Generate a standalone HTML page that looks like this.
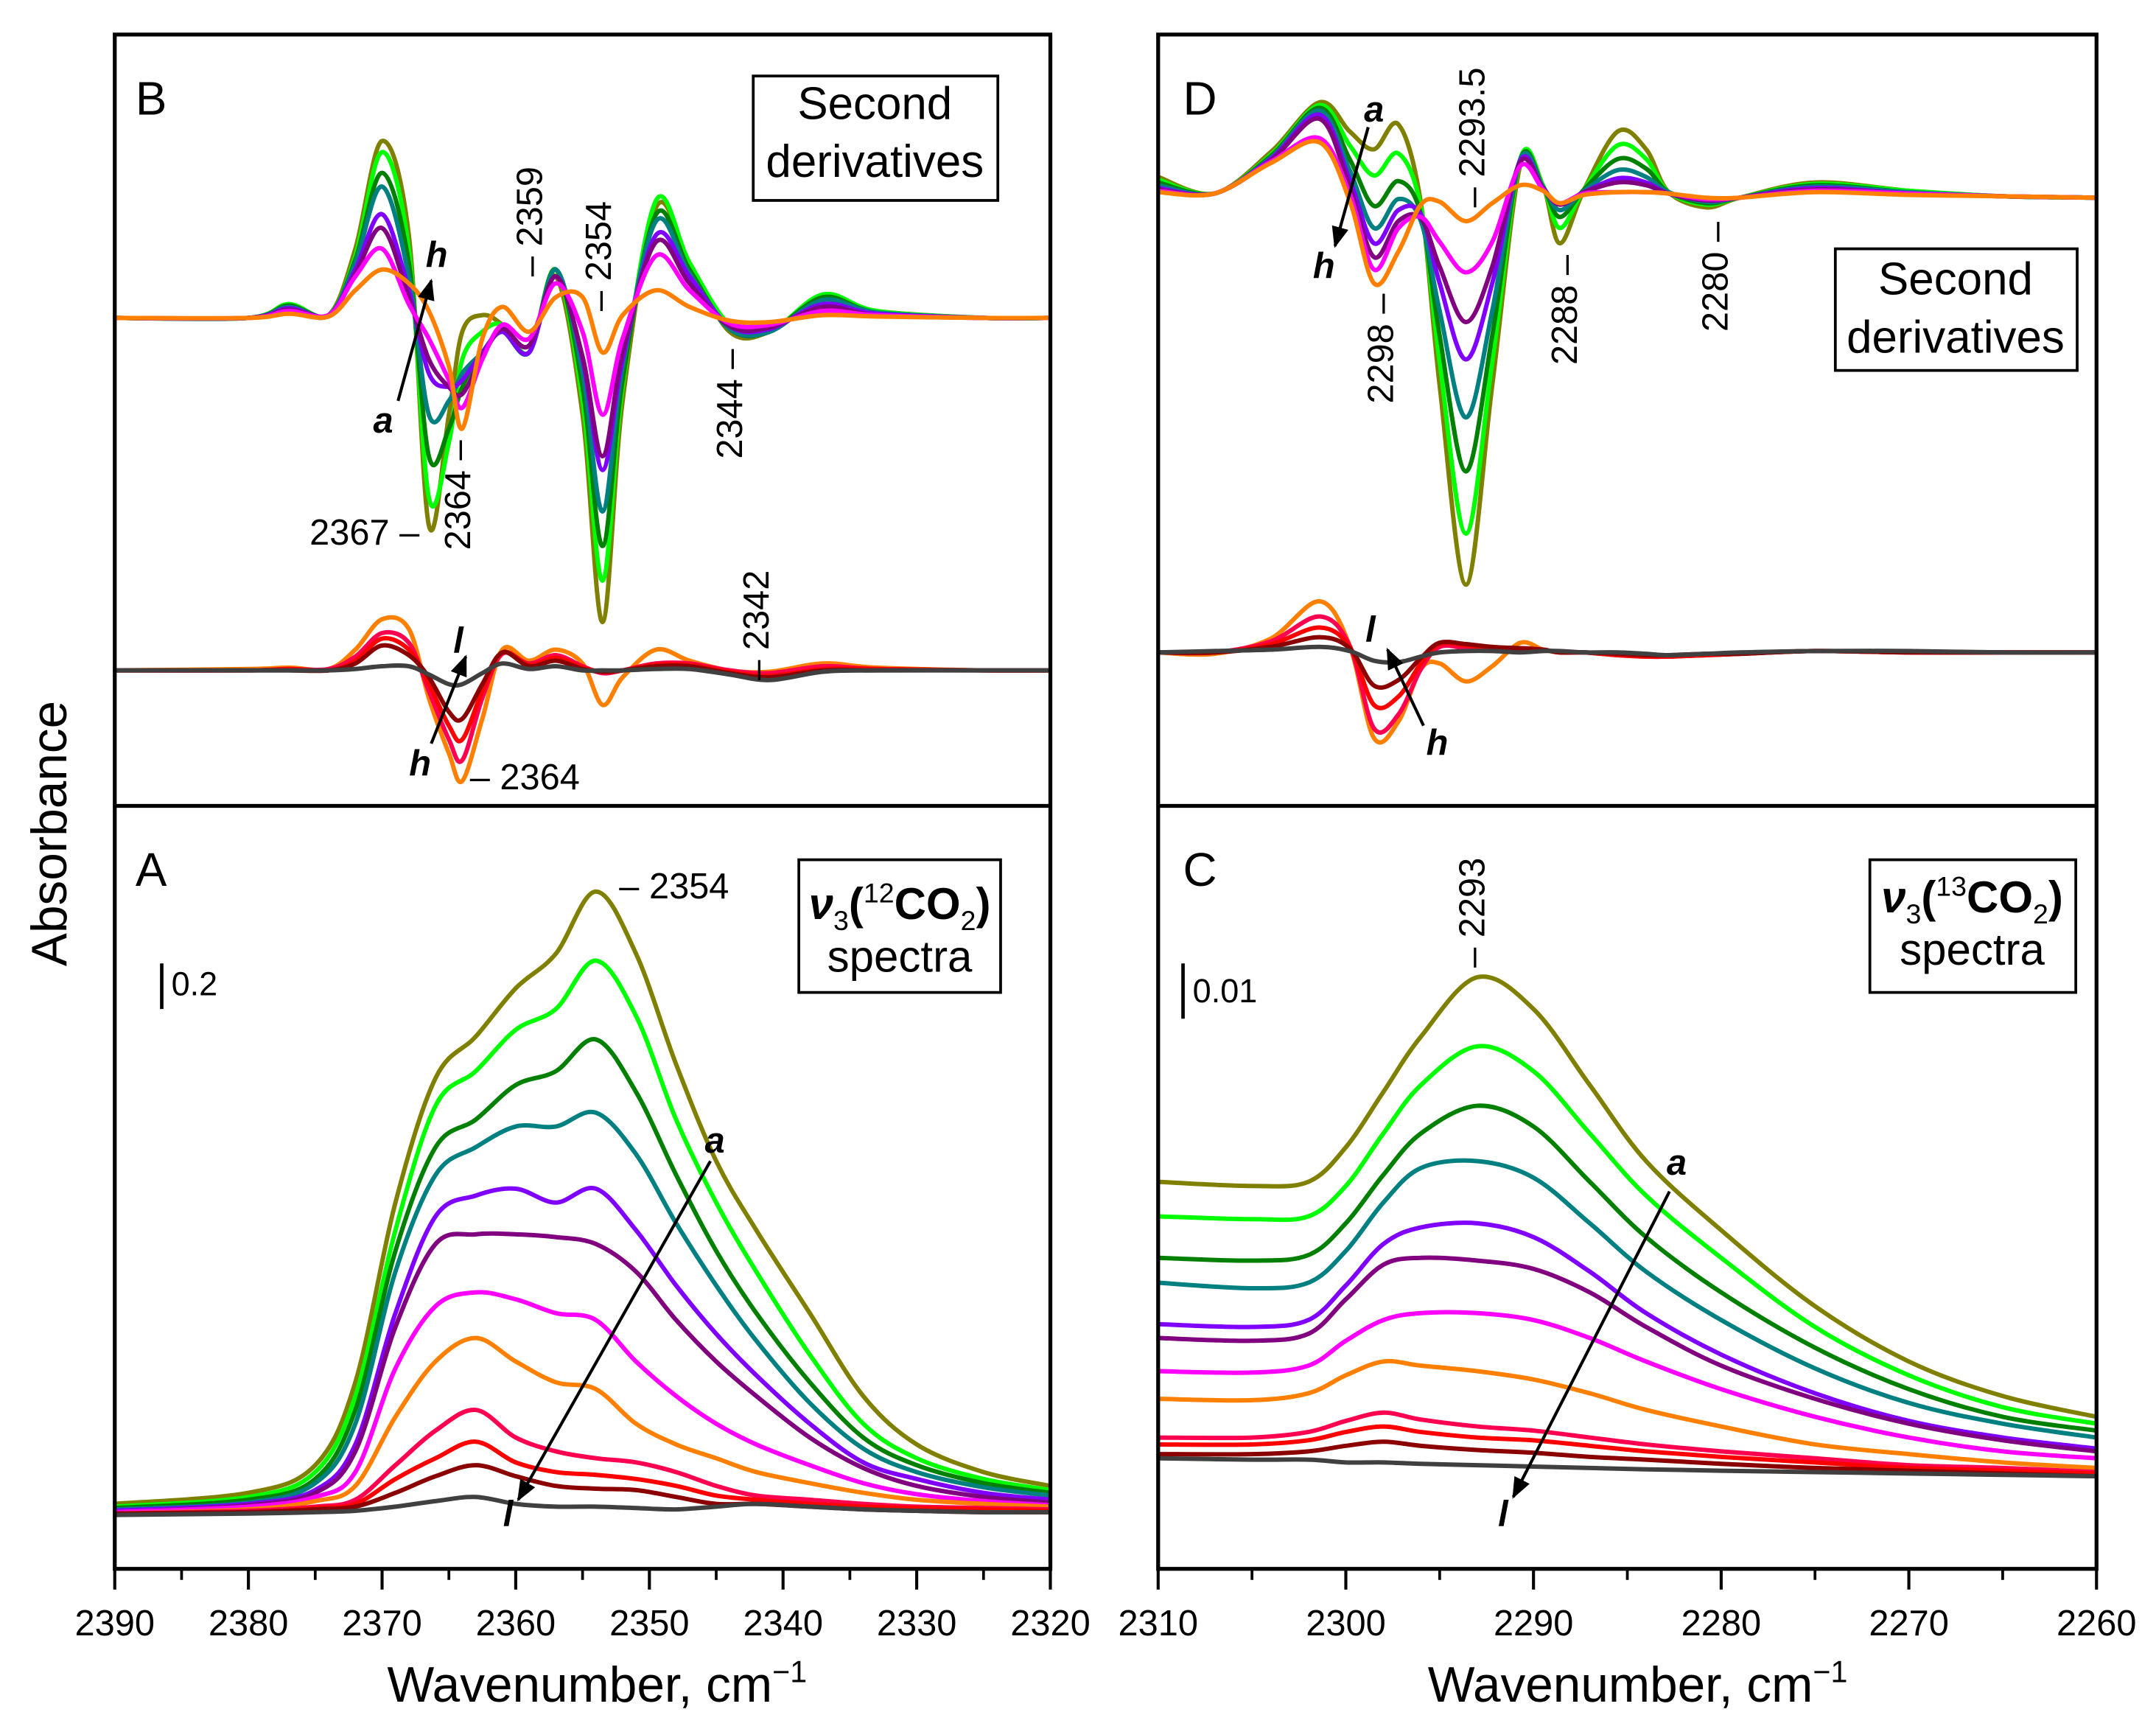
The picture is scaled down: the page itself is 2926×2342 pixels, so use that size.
<!DOCTYPE html>
<html><head><meta charset="utf-8">
<style>
html,body{margin:0;padding:0;background:#fff;}
svg{display:block;font-family:"Liberation Sans",Arial,sans-serif;}
</style></head>
<body>
<svg id="fig" width="2926" height="2342" viewBox="0 0 1560 1248.7" xmlns="http://www.w3.org/2000/svg">
<defs>
<clipPath id="clipL"><rect x="83" y="25" width="677" height="1110"/></clipPath>
<clipPath id="clipR"><rect x="838" y="25" width="679" height="1110"/></clipPath>
<marker id="arr" viewBox="0 0 10 10" refX="9" refY="5" markerWidth="7" markerHeight="7" orient="auto"><path d="M0,1 L10,5 L0,9 z" fill="#000"/></marker>
</defs>
<g id="curvesL" clip-path="url(#clipL)"></g>
<g id="curvesR" clip-path="url(#clipR)"></g>
<g id="axes"></g>
<g id="annot" font-size="26">
  <text x="98" y="83" font-size="34">B</text>
  <rect x="545" y="55" width="177" height="90" fill="#fff" stroke="#000" stroke-width="2"/>
  <text x="633" y="86" font-size="33" text-anchor="middle">Second</text>
  <text x="633" y="128" font-size="33" text-anchor="middle">derivatives</text>
  <text transform="translate(392,200) rotate(-90)">– 2359</text>
  <text transform="translate(442,225) rotate(-90)">– 2354</text>
  <text transform="translate(340,398) rotate(-90)">2364 –</text>
  <text transform="translate(537,332) rotate(-90)">2344 –</text>
  <text transform="translate(556,492) rotate(-90)">– 2342</text>
  <text x="224" y="394">2367 –</text>
  <text x="340" y="571">– 2364</text>
  <text x="270" y="313" font-weight="bold" font-style="italic">a</text>
  <text x="308" y="193" font-weight="bold" font-style="italic">h</text>
  <line x1="288" y1="290" x2="312" y2="203" stroke="#000" stroke-width="2.2" marker-end="url(#arr)"/>
  <text x="328" y="472" font-weight="bold" font-style="italic">l</text>
  <text x="296" y="561" font-weight="bold" font-style="italic">h</text>
  <line x1="312" y1="538" x2="337" y2="475" stroke="#000" stroke-width="2.2" marker-end="url(#arr)"/>

  <text x="98" y="641" font-size="34">A</text>
  <text x="448" y="650">– 2354</text>
  <rect x="578" y="622" width="146" height="96" fill="#fff" stroke="#000" stroke-width="2"/>
  <text x="651" y="665" font-size="32" text-anchor="middle"><tspan font-weight="bold" font-style="italic">ν</tspan><tspan font-size="20" dy="8">3</tspan><tspan font-weight="bold" dy="-8">(</tspan><tspan font-size="20" dy="-12">12</tspan><tspan font-weight="bold" dy="12">CO</tspan><tspan font-size="20" dy="8">2</tspan><tspan font-weight="bold" dy="-8">)</tspan></text>
  <text x="651" y="703" font-size="32" text-anchor="middle">spectra</text>
  <line x1="117" y1="697" x2="117" y2="730" stroke="#000" stroke-width="2.5"/>
  <text x="124" y="720" font-size="24">0.2</text>
  <text x="510" y="834" font-weight="bold" font-style="italic">a</text>
  <text x="364" y="1104" font-weight="bold" font-style="italic">l</text>
  <line x1="514" y1="840" x2="375" y2="1085" stroke="#000" stroke-width="2.2" marker-end="url(#arr)"/>

  <text x="856" y="83" font-size="34">D</text>
  <text x="987" y="88" font-weight="bold" font-style="italic">a</text>
  <text x="950" y="201" font-weight="bold" font-style="italic">h</text>
  <line x1="990" y1="92" x2="966" y2="178" stroke="#000" stroke-width="2.2" marker-end="url(#arr)"/>
  <text transform="translate(1074,150) rotate(-90)">– 2293.5</text>
  <text transform="translate(1008,292) rotate(-90)">2298 –</text>
  <text transform="translate(1141,264) rotate(-90)">2288 –</text>
  <text transform="translate(1250,240) rotate(-90)">2280 –</text>
  <rect x="1328" y="180" width="175" height="88" fill="#fff" stroke="#000" stroke-width="2"/>
  <text x="1415" y="213" font-size="33" text-anchor="middle">Second</text>
  <text x="1415" y="255" font-size="33" text-anchor="middle">derivatives</text>
  <text x="988" y="464" font-weight="bold" font-style="italic">l</text>
  <text x="1032" y="546" font-weight="bold" font-style="italic">h</text>
  <line x1="1030" y1="525" x2="1004" y2="470" stroke="#000" stroke-width="2.2" marker-end="url(#arr)"/>

  <text x="856" y="641" font-size="34">C</text>
  <text transform="translate(1074,700) rotate(-90)">– 2293</text>
  <rect x="1353" y="622" width="149" height="96" fill="#fff" stroke="#000" stroke-width="2"/>
  <text x="1427" y="660" font-size="32" text-anchor="middle"><tspan font-weight="bold" font-style="italic">ν</tspan><tspan font-size="20" dy="8">3</tspan><tspan font-weight="bold" dy="-8">(</tspan><tspan font-size="20" dy="-12">13</tspan><tspan font-weight="bold" dy="12">CO</tspan><tspan font-size="20" dy="8">2</tspan><tspan font-weight="bold" dy="-8">)</tspan></text>
  <text x="1427" y="698" font-size="32" text-anchor="middle">spectra</text>
  <line x1="856" y1="697" x2="856" y2="737" stroke="#000" stroke-width="2.5"/>
  <text x="863" y="725" font-size="24">0.01</text>
  <text x="1206" y="850" font-weight="bold" font-style="italic">a</text>
  <text x="1084" y="1104" font-weight="bold" font-style="italic">l</text>
  <line x1="1208" y1="862" x2="1095" y2="1083" stroke="#000" stroke-width="2.2" marker-end="url(#arr)"/>

  <text transform="translate(48,603) rotate(-90)" font-size="36" text-anchor="middle">Absorbance</text>
  <text x="432" y="1231" font-size="36" text-anchor="middle">Wavenumber, cm<tspan font-size="22" dy="-14">−1</tspan></text>
  <text x="1185" y="1231" font-size="36" text-anchor="middle">Wavenumber, cm<tspan font-size="22" dy="-14">−1</tspan></text>
</g>
<script>
// ===== data =====
const colors = ["#808000","#00ff00","#008000","#008080","#8000ff","#800080","#ff00ff","#ff8000","#ff0050","#ff0000","#8b0000","#404040"];
const seriesNames = ["a","b","c","d","e","f","g","h","i","j","k","l"];
// Panel A: 12CO2 spectra (relative absorbance units)
const waveA = [2390,2380,2375,2372,2369,2366,2363,2360,2357,2354,2351,2348,2345,2342,2338,2334,2330,2325,2320];
const specA = [
 [7,15,35,95,225,315,345,380,405,450,405,325,255,205,145,85,50,30,20],
 [5,12,30,85,205,295,320,350,365,400,360,285,225,175,115,65,40,25,17],
 [4,10,25,75,190,265,285,310,320,343,305,245,190,145,95,55,35,22,15],
 [3,8,22,65,175,245,265,280,280,290,260,210,165,125,80,47,30,19,13],
 [2,7,17,50,145,215,230,235,225,235,205,165,130,100,65,37,25,15,10],
 [1,6,15,45,135,195,202,202,200,195,175,140,110,85,55,33,20,12,8],
 [1,5,12,30,105,150,160,155,145,140,110,85,65,50,35,22,14,9,6],
 [0,3,9,20,70,110,127,110,95,90,65,50,40,30,22,15,10,7,5],
 [0,2,5,10,35,60,75,55,45,40,37,30,20,13,10,7,5,4,3],
 [0,1,4,7,25,40,52,37,30,28,25,20,13,10,7,5,4,3,2],
 [0,1,3,5,15,27,35,27,20,18,17,12,7,7,5,3,2,1,1],
 [-1,0,1,2,5,9,12,7,5,5,4,3,5,7,5,3,2,1,1]
];
// Panel B: second derivatives
const waveB = [2390,2380,2377,2374,2372,2370,2368,2366.5,2365,2364,2362.5,2361,2359,2357,2355,2353.5,2352,2349.5,2347,2344,2341,2337,2333,2325,2320];
const derivBUpper = [
 [0,0,8,2,50,128,60,-150,-70,-10,2,-5,-25,30,-70,-220,-60,80,40,-10,-10,15,5,0,0],
 [0,0,10,2,45,120,50,-130,-90,-30,-10,-5,-25,35,-60,-190,-50,85,40,-5,-10,17,5,0,0],
 [0,0,9,2,42,105,40,-100,-80,-50,-25,-10,-25,35,-50,-165,-45,75,35,-8,-10,15,4,0,0],
 [0,0,8,2,40,95,30,-70,-60,-40,-25,-10,-25,35,-40,-140,-35,70,32,-8,-10,13,4,0,0],
 [0,0,7,2,35,75,20,-40,-50,-45,-25,-10,-25,30,-30,-110,-30,60,30,-6,-8,10,3,0,0],
 [0,0,6,2,32,65,15,-30,-50,-55,-28,-8,-20,30,-28,-100,-25,55,25,-6,-7,8,2,0,0],
 [0,0,5,2,30,50,10,-15,-45,-65,-30,-5,-15,25,-10,-70,-15,45,20,-4,-5,5,2,0,0],
 [0,0,3,1,20,35,25,5,-35,-80,-15,8,-10,15,15,-25,2,20,8,-2,-3,2,1,0,0]
];
const derivBLower = [
 [0,1,2,1,15,37,30,-20,-60,-80,-35,15,7,15,5,-25,-5,15,7,0,-1,5,2,0,0],
 [0,0,1,1,10,27,20,-15,-50,-65,-20,12,5,11,3,-2,0,5,5,0,-2,3,1,0,0],
 [0,0,1,0,7,23,15,-10,-40,-50,-15,13,4,9,2,-1,0,4,4,-1,-4,1,1,0,0],
 [0,0,0,0,5,18,11,-5,-30,-35,-10,13,3,7,1,-1,0,3,3,-2,-5,0,0,0,0],
 [0,0,0,0,1,3,3,-3,-10,-10,-2,5,1,3,0,0,0,1,1,-3,-7,-1,0,0,0]
];
// Panel C: 13CO2 spectra
const waveC = [2310,2305,2302,2300,2298,2296,2293,2290,2287,2284,2280,2275,2270,2265,2260];
const specC = [
 [245,242,245,270,310,350,393,370,315,260,210,155,115,90,75],
 [220,218,220,242,280,315,343,325,280,235,190,140,105,82,70],
 [190,188,192,215,250,280,300,285,245,205,165,125,95,75,65],
 [172,168,172,195,230,255,260,248,215,180,145,110,85,70,60],
 [142,140,145,170,200,212,215,205,180,150,120,92,72,60,52],
 [132,130,135,160,185,190,188,182,165,140,112,88,70,58,50],
 [108,107,112,130,145,150,150,145,132,115,95,75,60,50,45],
 [88,87,92,105,115,112,108,102,92,80,68,55,48,42,38],
 [60,60,64,72,78,73,68,65,60,55,50,45,40,38,35],
 [55,55,58,64,68,64,60,58,54,50,46,42,38,36,34],
 [48,48,50,54,57,54,51,49,46,44,41,38,36,34,32],
 [45,44,44,42,42,41,40,39,38,37,36,35,34,33,32]
];
// Panel D: second derivatives 13CO2
const waveD = [2310,2307,2304,2301.4,2299.8,2298.5,2297.2,2296,2295,2293.6,2292.2,2290.7,2289.5,2288.6,2287.3,2285.5,2284,2282.8,2280.8,2279,2275,2270,2265,2260];
const derivDUpper = [
 [15,3,33,69,48,35,53,-4,-136,-280,-136,24,9,-33,6,48,35,4,-7,0,11,5,1,0],
 [13,3,31,67,38,16,32,-7,-119,-243,-119,28,9,-22,6,38,28,4,-5,0,10,5,1,0],
 [11,3,30,65,28,-6,12,-12,-100,-198,-100,28,8,-14,6,28,21,4,-4,0,9,4,1,0],
 [9,3,29,63,20,-22,-1,-17,-82,-159,-82,28,8,-9,5,20,15,4,-3,0,8,4,1,0],
 [7,3,28,60,13,-33,-9,-12,-62,-117,-62,27,7,-5,4,14,11,3,-2,0,7,3,1,0],
 [6,3,27,57,8,-43,-17,-15,-50,-90,-50,26,7,-5,4,11,9,3,-2,0,6,3,1,0],
 [5,3,26,43,3,-52,-22,-14,-32,-54,-32,23,6,-4,3,4,4,3,-1,0,5,3,1,0],
 [4,3,25,40,-2,-62,-39,-5,-3,-17,-4,9,5,-4,2,4,4,3,0,0,4,2,1,0]
];
const derivDLower = [
 [0,-1,10,37,5,-62,-50,-12,-8,-21,-10,7,2,0,0,-2,-2,-2,-2,-1,1,0,0,0],
 [0,0,8,26,5,-55,-45,-12,4,3,2,3,2,0,0,-2,-3,-3,-2,-1,1,0,0,0],
 [0,0,6,18,4,-38,-32,-8,6,5,3,3,2,0,0,-2,-3,-3,-2,-1,1,0,0,0],
 [0,0,4,11,3,-24,-20,-4,7,6,4,3,2,0,0,-1,-2,-2,-1,-1,1,0,0,0],
 [0,1,2,4,1,-6,-7,-3,0,1,1,0,1,1,0,0,-1,-2,-1,0,1,1,0,0]
];
const ticksLeft = [2390,2380,2370,2360,2350,2340,2330,2320];
const ticksRight = [2310,2300,2290,2280,2270,2260];

// ===== scales =====
const NS = "http://www.w3.org/2000/svg";
const xL = w => 83 + (2390 - w) / 70 * 677;
const xR = w => 838 + (2310 - w) / 50 * 679;
const yA = v => 1095 - v;
const yBu = v => 230 - v;
const yBl = v => 485 - v;
const yC = v => 1100 - v;
const yDu = v => 143 - v;
const yDl = v => 472 - v;

function smoothPath(pts){
  let d = "M" + pts[0][0].toFixed(2) + "," + pts[0][1].toFixed(2);
  for (let i = 0; i < pts.length - 1; i++){
    const p0 = pts[Math.max(0,i-1)], p1 = pts[i], p2 = pts[i+1], p3 = pts[Math.min(pts.length-1,i+2)];
    const c1x = p1[0] + (p2[0]-p0[0])/6, c1y = p1[1] + (p2[1]-p0[1])/6;
    const c2x = p2[0] - (p3[0]-p1[0])/6, c2y = p2[1] - (p3[1]-p1[1])/6;
    d += " C" + c1x.toFixed(2)+","+c1y.toFixed(2)+" "+c2x.toFixed(2)+","+c2y.toFixed(2)+" "+p2[0].toFixed(2)+","+p2[1].toFixed(2);
  }
  return d;
}
function drawSeries(group, waves, vals, xf, yf, color, name){
  const pts = waves.map((w,i) => [xf(w), yf(vals[i])]);
  const p = document.createElementNS(NS, "path");
  p.setAttribute("d", smoothPath(pts));
  p.setAttribute("fill", "none");
  p.setAttribute("stroke", color);
  p.setAttribute("stroke-width", "3.2");
  p.setAttribute("stroke-linejoin", "round");
  
  
  group.appendChild(p);
}
const gL = document.getElementById("curvesL");
const gR = document.getElementById("curvesR");
specA.forEach((s,i) => drawSeries(gL, waveA, s, xL, yA, colors[i], "spectrum-a-" + seriesNames[i]));
derivBUpper.forEach((s,i) => drawSeries(gL, waveB, s, xL, yBu, colors[i], "deriv-b-upper-" + seriesNames[i]));
derivBLower.forEach((s,i) => drawSeries(gL, waveB, s, xL, yBl, colors[i+7], "deriv-b-lower-" + seriesNames[i+7]));
specC.forEach((s,i) => drawSeries(gR, waveC, s, xR, yC, colors[i], "spectrum-c-" + seriesNames[i]));
derivDUpper.forEach((s,i) => drawSeries(gR, waveD, s, xR, yDu, colors[i], "deriv-d-upper-" + seriesNames[i]));
derivDLower.forEach((s,i) => drawSeries(gR, waveD, s, xR, yDl, colors[i+7], "deriv-d-lower-" + seriesNames[i+7]));

// ===== axes =====
const gA = document.getElementById("axes");
function rect(x,y,w,h,name){
  const r = document.createElementNS(NS,"rect");
  r.setAttribute("x",x); r.setAttribute("y",y); r.setAttribute("width",w); r.setAttribute("height",h);
  r.setAttribute("fill","none"); r.setAttribute("stroke","#000"); r.setAttribute("stroke-width","2.8");
  
  
  gA.appendChild(r);
}
function line(x1,y1,x2,y2,sw,name){
  const l = document.createElementNS(NS,"line");
  l.setAttribute("x1",x1); l.setAttribute("y1",y1); l.setAttribute("x2",x2); l.setAttribute("y2",y2);
  l.setAttribute("stroke","#000"); l.setAttribute("stroke-width",sw);
  
  
  gA.appendChild(l);
}
rect(83,25,677,1110,"left-frame");
rect(838,25,679,1110,"right-frame");
line(83,583,760,583,2.8,"left-divider");
line(838,583,1517,583,2.8,"right-divider");
function ticks(list, xf, name){
  list.forEach(t => {
    line(xf(t),1135,xf(t),1150,2.2,name+"-tick-major");
    const tx = document.createElementNS(NS,"text");
    tx.setAttribute("x", xf(t)); tx.setAttribute("y", 1183);
    tx.setAttribute("text-anchor","middle"); tx.setAttribute("font-size","26");
    tx.textContent = t;
    
    
    gA.appendChild(tx);
  });
  for (let i = 0; i < list.length-1; i++){
    const m = (list[i]+list[i+1])/2;
    line(xf(m),1135,xf(m),1143,2,name+"-tick-minor");
  }
}
ticks(ticksLeft, xL, "x-left");
ticks(ticksRight, xR, "x-right");
</script>
</svg>
</body></html>
